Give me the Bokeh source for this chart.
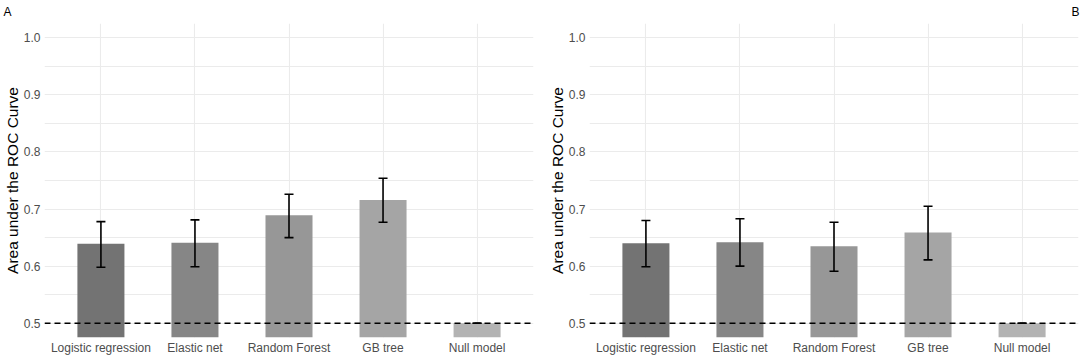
from bokeh.plotting import figure
from bokeh.models import (FactorRange, Range1d, FixedTicker, Whisker, TeeHead, Span,
                          ColumnDataSource, PrintfTickFormatter)
from bokeh.layouts import row
from bokeh.embed import file_html
from bokeh.resources import INLINE

models = ["Logistic regression", "Elastic net", "Random Forest", "GB tree", "Null model"]

auc_a = [0.639, 0.641, 0.689, 0.716, 0.500]
lo_a = [0.598, 0.599, 0.650, 0.677, 0.500]
hi_a = [0.678, 0.681, 0.726, 0.754, 0.500]

auc_b = [0.640, 0.642, 0.635, 0.659, 0.500]
lo_b = [0.599, 0.600, 0.591, 0.611, 0.500]
hi_b = [0.680, 0.683, 0.677, 0.705, 0.500]

bar_colors = ["#737373", "#868686", "#979797", "#a5a5a5", "#b3b3b3"]
y_ticks = [0.5, 0.6, 0.7, 0.8, 0.9, 1.0]
y_minor = [0.55, 0.65, 0.75, 0.85, 0.95]
reference_line = 0.5
y_title = "Area under the ROC Curve"

FONT = "Liberation Sans"


def panel(auc, lo, hi, tag, width, left, right, tag_align, tag_offset):
    src = ColumnDataSource(dict(model=models, auc=auc, lo=lo, hi=hi, color=bar_colors))
    p = figure(x_range=FactorRange(factors=models, range_padding=0.1,
                                   range_padding_units="absolute"),
               y_range=Range1d(0.475, 1.025),
               width=width, height=358,
               output_backend="svg", toolbar_location=None,
               min_border_left=left, min_border_right=right,
               min_border_top=23, min_border_bottom=21,
               title=tag)
    p.outline_line_color = None
    p.background_fill_color = "white"
    p.border_fill_color = "white"

    p.title.align = tag_align
    p.title.vertical_align = "top"
    p.title.offset = tag_offset
    p.title.standoff = 6
    p.title.text_font = FONT
    p.title.text_font_size = "12px"
    p.title.text_font_style = "normal"
    p.title.text_color = "black"

    p.vbar(x="model", top="auc", bottom=0, width=0.5, fill_color="color",
           line_color=None, source=src)

    w = Whisker(base="model", upper="hi", lower="lo", source=src,
                line_color="black", line_width=1.6, level="annotation",
                upper_head=TeeHead(size=9, line_color="black", line_width=1.6),
                lower_head=TeeHead(size=9, line_color="black", line_width=1.6))
    p.add_layout(w)

    p.add_layout(Span(location=reference_line, dimension="width", line_color="black",
                      line_width=1.4, line_dash="6 4", level="annotation"))

    # axes
    p.yaxis.ticker = FixedTicker(ticks=y_ticks, minor_ticks=y_minor)
    p.yaxis.formatter = PrintfTickFormatter(format="%.1f")
    for ax in (p.xaxis, p.yaxis):
        ax.axis_line_color = None
        ax.major_tick_line_color = None
        ax.minor_tick_line_color = None
        ax.major_tick_out = 0
        ax.major_tick_in = 0
        ax.minor_tick_out = 0
        ax.major_label_text_font = FONT
        ax.major_label_text_font_size = "12px"
        ax.major_label_text_color = "#4d4d4d"
    p.xaxis.axis_label_standoff = 0
    p.yaxis.major_label_standoff = 4
    p.xaxis.major_label_standoff = 3
    p.yaxis.axis_label = y_title
    p.yaxis.axis_label_text_font = FONT
    p.yaxis.axis_label_text_font_size = "15.5px"
    p.yaxis.axis_label_text_font_style = "normal"
    p.yaxis.axis_label_text_color = "black"
    p.yaxis.axis_label_standoff = 0

    # grid
    p.ygrid.ticker = FixedTicker(ticks=y_ticks, minor_ticks=y_minor)
    p.ygrid.grid_line_color = "#ebebeb"
    p.ygrid.grid_line_width = 1.1
    p.ygrid.minor_grid_line_color = "#ebebeb"
    p.ygrid.minor_grid_line_width = 1
    p.xgrid.grid_line_color = "#ebebeb"
    p.xgrid.grid_line_width = 1.1
    return p


pa = panel(auc_a, lo_a, hi_a, "A", 545, 44, 12, "left", -41)
pb = panel(auc_b, lo_b, hi_b, "B", 535, 44, 2, "right", -1)

layout = row(pa, pb)
open("out.html", "w").write(file_html(layout, INLINE))
